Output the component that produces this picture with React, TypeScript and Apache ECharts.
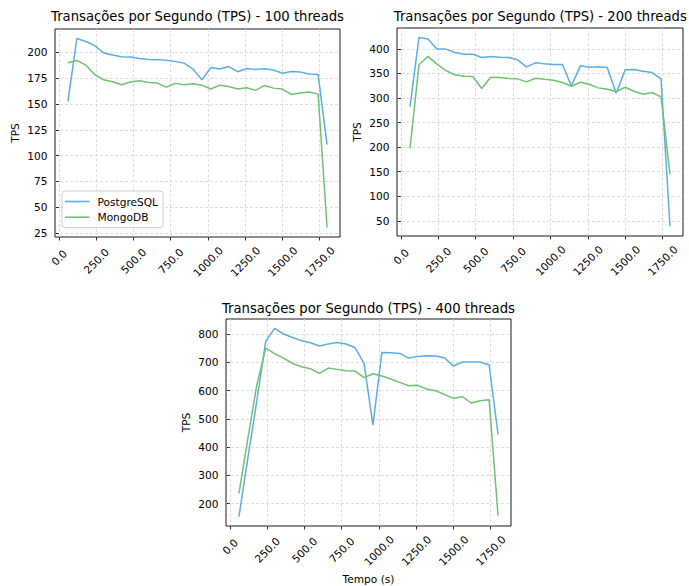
import React, { useEffect, useRef } from "react";
import * as echarts from "echarts";

// ---------- data ----------
const times = [60, 120, 180, 240, 300, 360, 420, 480, 540, 600, 660, 720, 780, 840, 900, 960, 1020, 1080, 1140, 1200, 1260, 1320, 1380, 1440, 1500, 1560, 1620, 1680, 1740, 1800];

const pg100 = [152.5, 213.5, 210.5, 206.5, 199.4, 197.5, 195.8, 195.6, 194, 193.2, 193, 192.5, 191.3, 189.6, 183.8, 173.5, 185.4, 184, 186.3, 181.3, 184.4, 183.5, 184.1, 182.9, 179.8, 181.5, 180.9, 179, 178.7, 110.7];
const mg100 = [190, 192.2, 187.7, 178.4, 173.5, 171.6, 168.7, 171.3, 172.5, 170.9, 170.3, 166.4, 170, 168.7, 169.6, 168.3, 164.5, 168.3, 167, 164.5, 165.8, 163.2, 168, 165.4, 164.5, 159.3, 160.6, 161.6, 159.6, 30.4];

const pg200 = [282.4, 423, 420, 399.3, 399.3, 392.5, 389, 389, 382.3, 384.4, 383, 382.3, 377.6, 363.3, 371.4, 369.4, 368, 368, 324.5, 365.3, 362.6, 363.3, 362, 309.6, 357.2, 357.9, 354.5, 351.7, 338.8, 38.6];
const mg200 = [197.4, 367.4, 384.4, 368.7, 355.8, 347, 344.3, 343.6, 319.1, 342.2, 341.5, 339.5, 338.8, 332.7, 340.2, 338.1, 336.1, 331.3, 323.9, 332, 328, 320.5, 317.7, 313, 321.8, 313.7, 307.5, 311, 302.1, 145.1];

const pg400 = [154, 362, 564, 775, 820, 800, 788, 776, 769, 757.6, 764.6, 770.5, 764.6, 751.7, 696, 478, 735, 734, 731.6, 715, 721, 723.4, 722, 716, 686.8, 701, 701, 701, 690.4, 445];
const mg400 = [236, 431, 620, 750, 730.4, 715, 696, 684.5, 677.4, 661, 679.7, 675, 670.3, 669, 645.6, 659.7, 651.4, 640.8, 629, 617.3, 618.4, 605.5, 599.6, 586.6, 572.5, 578.4, 556, 564.2, 567.7, 157.5];

const seriesNames = ["PostgreSQL", "MongoDB"];
const titles = [
  "Transações por Segundo (TPS) - 100 threads",
  "Transações por Segundo (TPS) - 200 threads",
  "Transações por Segundo (TPS) - 400 threads",
];
const xTicks = [0, 250, 500, 750, 1000, 1250, 1500, 1750];
const yTicks100 = [25, 50, 75, 100, 125, 150, 175, 200];
const yTicks200 = [50, 100, 150, 200, 250, 300, 350, 400];
const yTicks400 = [200, 300, 400, 500, 600, 700, 800];
const yName = "TPS";
const xName = "Tempo (s)";

// ---------- styling / layout ----------
const FONT = "DejaVu Sans";
const FS = 10.6;
const BLUE = "#5DADE2";
const GREEN = "#70C172";
const grids = [
  { left: 55, top: 29, width: 285, height: 208 },
  { left: 397, top: 28, width: 286, height: 208 },
  { left: 226, top: 319, width: 285, height: 207 },
];
const titlePos = [
  [197.5, 16.5],
  [540.3, 16],
  [368.4, 308],
];

function range(arrs: number[][]): [number, number] {
  const all = arrs.flat();
  const lo = Math.min(...all);
  const hi = Math.max(...all);
  const m = (hi - lo) * 0.05;
  return [lo - m, hi + m];
}

export default function App() {
  const ref = useRef<HTMLDivElement>(null);

  useEffect(() => {
    if (!ref.current) return;
    const chart = echarts.init(ref.current, undefined, { renderer: "svg" });

    const panels = [
      { pg: pg100, mg: mg100, yTicks: yTicks100 },
      { pg: pg200, mg: mg200, yTicks: yTicks200 },
      { pg: pg400, mg: mg400, yTicks: yTicks400 },
    ];
    const xr = range([times]);

    const splitLine = {
      show: true,
      lineStyle: { color: "#d4d4d4", type: [3, 2] as any, width: 0.8 },
    };

    const xAxis = panels.map((_, i) => ({
      type: "value",
      gridIndex: i,
      min: xr[0],
      max: xr[1],
      name: i === 2 ? xName : "",
      nameLocation: "middle",
      nameGap: 47,
      nameTextStyle: { fontFamily: FONT, fontSize: FS, color: "#000" },
      axisLine: { show: false },
      axisTick: {
        show: true,
        length: 3.5,
        lineStyle: { color: "#000", width: 0.8 },
        customValues: xTicks,
      },
      axisLabel: {
        customValues: xTicks,
        interval: 0,
        rotate: 45,
        align: "center",
        verticalAlign: "middle",
        margin: 20.5,
        fontFamily: FONT,
        fontSize: FS,
        color: "#000",
        formatter: (v: number) => {
          const s = Number(v).toFixed(1);
          return `{l${s.length}|${s}}`;
        },
        rich: {
          l3: { fontFamily: FONT, fontSize: FS, color: "#000", padding: [0, 0, 0, 0] },
          l5: { fontFamily: FONT, fontSize: FS, color: "#000", padding: [4.8, 4.8, 0, 0] },
          l6: { fontFamily: FONT, fontSize: FS, color: "#000", padding: [5.7, 5.7, 0, 0] },
        },
      },
      splitLine: splitLine,
    }));

    const yAxis = panels.map((p, i) => {
      const yr = range([p.pg, p.mg]);
      return {
        type: "value",
        gridIndex: i,
        min: yr[0],
        max: yr[1],
        name: yName,
        nameLocation: "middle",
        nameGap: 34.5,
        nameTextStyle: { fontFamily: FONT, fontSize: FS, color: "#000" },
        axisLine: { show: false },
        axisTick: {
          show: true,
          length: 3.5,
          lineStyle: { color: "#000", width: 0.8 },
          customValues: p.yTicks,
        },
        axisLabel: {
          customValues: p.yTicks,
          margin: 7.5,
          fontFamily: FONT,
          fontSize: FS,
          color: "#000",
        },
        splitLine: splitLine,
      };
    });

    const series: any[] = [];
    panels.forEach((p, i) => {
      [p.pg, p.mg].forEach((vals, k) => {
        const c = k === 0 ? BLUE : GREEN;
        series.push({
          type: "line",
          name: seriesNames[k],
          xAxisIndex: i,
          yAxisIndex: i,
          data: times.map((t, j) => [t, vals[j]]),
          symbol: "none",
          showSymbol: false,
          lineStyle: { color: c, width: 1.5 },
          itemStyle: { color: c },
          emphasis: { disabled: true },
        });
      });
    });

    chart.setOption({
      animation: false,
      backgroundColor: "#fff",
      grid: grids.map((g) => ({
        ...g,
        show: true,
        borderColor: "#1a1a1a",
        borderWidth: 1,
        backgroundColor: "transparent",
        containLabel: false,
      })),
      xAxis,
      yAxis,
      legend: {
        data: seriesNames,
        orient: "vertical",
        left: 62,
        top: 191,
        padding: [5, 5, 5, 3],
        itemGap: 4.7,
        itemWidth: 24.5,
        itemHeight: 1.6,
        icon: "rect",
        borderColor: "#cccccc",
        borderWidth: 1,
        borderRadius: 3,
        backgroundColor: "rgba(255,255,255,0.8)",
        textStyle: { fontFamily: FONT, fontSize: FS, color: "#000", padding: [0, 0, 0, 3] },
        selectedMode: false,
      },
      graphic: titles.map((t, i) => ({
        type: "text",
        x: titlePos[i][0],
        y: titlePos[i][1],
        style: {
          text: t,
          fontFamily: FONT,
          fontSize: 13.2,
          fill: "#000",
          textAlign: "center",
          textVerticalAlign: "middle",
        },
      })),
      series,
    });

    return () => chart.dispose();
  }, []);

  return (
    <div
      ref={ref}
      style={{ position: "fixed", left: 0, top: 0, width: 689, height: 586, background: "#fff" }}
    />
  );
}
